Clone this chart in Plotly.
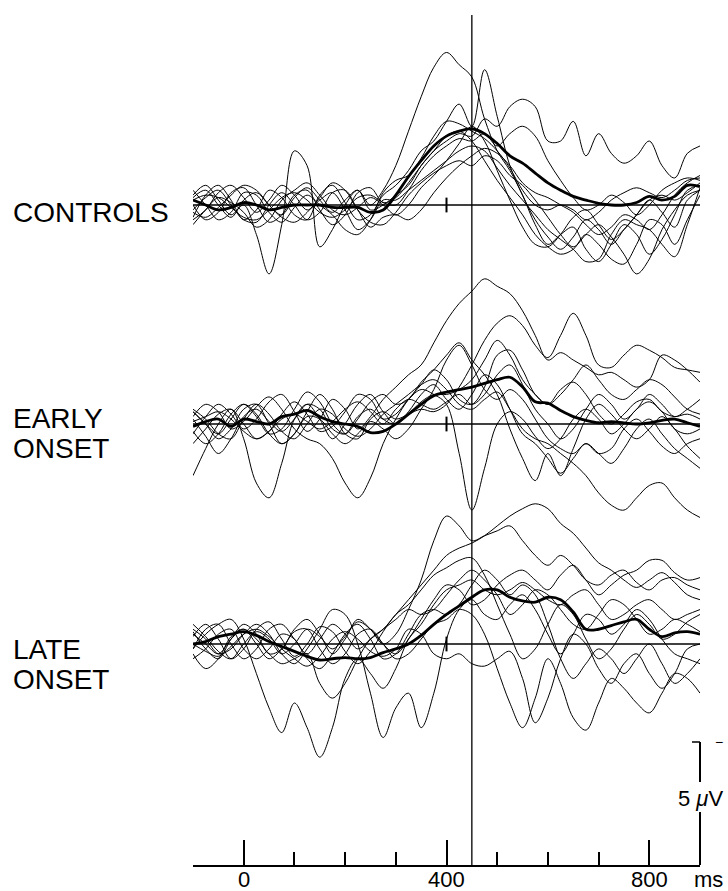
import plotly.graph_objects as go

# ---------------- data ----------------
# time samples (ms)
times = [-100 + 25 * i for i in range(41)]

# amplitudes in microvolts (negativity plotted upward)
controls_mean = [0.2,0.0,-0.2,-0.1,0.1,0.0,-0.2,-0.1,0.0,0.0,0.0,-0.1,-0.1,-0.1,-0.3,-0.2,0.4,1.15,1.8,2.4,2.8,3.0,3.1,2.9,2.5,2.0,1.7,1.3,0.9,0.6,0.35,0.2,0.07,0.0,0.0,0.1,0.35,0.2,0.35,0.8,0.75]
controls_subjects = [
    [0.3,0.6,0.0,-0.5,0.2,0.5,0.0,-0.4,0.3,0.7,0.2,-0.3,0.2,0.6,0.0,0.6,1.6,3.0,4.4,5.6,6.2,5.7,5.2,3.5,2.2,1.4,0.4,-0.8,-1.6,-1.2,-0.9,-1.8,-2.3,-1.6,-0.8,-1.2,-2.0,-1.4,-0.4,0.6,0.8],
    [-0.5,0.4,0.8,0.2,-0.6,-0.2,0.6,0.3,-0.4,-0.6,0.4,0.8,0.1,-0.6,-0.4,0.4,0.8,1.4,2.2,2.6,3.4,4.1,3.2,5.5,3.6,1.6,0.4,-0.6,-1.3,-1.8,-1.3,-0.6,-1.0,-1.6,-1.0,-0.4,0.2,0.4,0.2,0.5,0.9],
    [0.0,-0.6,-0.3,0.5,0.7,0.0,-0.7,-0.4,0.4,0.6,-0.2,-0.8,-0.4,0.5,0.7,0.1,0.3,0.9,1.6,2.2,2.6,2.9,2.8,3.5,3.2,4.0,4.3,4.0,2.6,2.6,3.4,2.0,2.9,2.1,1.7,2.0,2.6,1.6,1.1,2.1,2.4],
    [0.2,0.4,0.3,-0.1,-0.5,-0.6,-0.2,0.3,0.5,0.2,-0.3,-0.5,-0.2,0.3,0.4,0.1,0.0,0.6,1.4,2.0,2.4,2.7,2.6,2.9,2.4,2.9,3.2,2.8,1.8,1.0,0.3,-0.2,0.0,0.4,0.1,-0.4,0.0,0.6,0.9,1.1,1.0],
    [-0.3,-0.5,-0.1,0.4,0.8,0.6,0.0,-0.5,-0.7,-0.3,0.3,0.9,0.6,-0.2,-0.7,-0.8,-0.3,0.4,0.9,1.3,1.6,1.8,1.6,2.0,1.8,1.2,0.8,0.2,-0.5,-1.2,-1.7,-1.2,-0.8,-1.3,-2.0,-2.8,-2.2,-1.0,-0.2,0.4,0.6],
    [0.4,0.8,0.2,-0.4,0.0,-1.2,-2.8,-0.8,2.2,1.6,-1.7,-1.0,0.0,0.6,-0.2,0.0,0.4,0.8,1.6,2.2,2.8,3.0,2.6,1.8,1.0,0.3,-0.4,-1.2,-1.7,-2.0,-1.8,-1.2,-1.6,-2.2,-2.4,-1.6,-0.6,-0.8,-1.6,-0.6,0.4],
    [-0.6,-0.2,0.5,0.8,0.3,-0.3,0.2,0.8,0.4,-0.2,0.2,0.5,-0.2,-1.0,-0.6,0.2,0.2,0.6,1.0,1.4,1.8,2.2,2.4,2.2,1.5,0.8,0.2,-0.4,-1.0,-1.4,-1.8,-2.3,-2.2,-1.2,-0.6,-0.8,-1.0,-1.6,-2.1,-0.8,0.7],
    [-0.8,-0.2,0.3,0.1,-0.3,-0.9,-0.6,0.2,0.6,0.9,0.4,-0.2,-0.4,-0.1,0.3,0.0,-0.4,0.0,0.7,1.2,1.8,2.5,3.2,2.6,1.4,0.2,-0.9,-1.6,-1.7,-1.2,-0.5,-0.2,-0.8,-1.4,-1.0,-0.4,0.2,-0.3,-0.9,0.2,0.6],
    [-0.2,0.3,0.6,0.0,-0.6,-0.7,0.0,0.5,0.0,-0.6,-0.3,0.5,0.6,-0.2,-0.9,-0.5,-0.4,-0.6,-0.2,0.5,1.1,1.6,2.0,2.3,2.1,1.6,0.9,0.5,0.3,0.0,-0.3,-0.8,-1.2,-0.9,-0.4,-0.6,-1.0,-0.4,0.4,0.9,1.2],
    [0.6,0.0,-0.6,-0.3,0.5,0.4,-0.3,-0.7,-0.1,0.4,0.0,-0.4,-1.0,-1.2,-0.6,0.5,1.0,1.2,1.9,2.8,3.4,3.3,3.0,2.7,2.2,1.5,0.6,0.0,-0.2,0.0,-0.2,-0.6,-0.3,0.2,0.5,0.7,0.5,0.3,0.6,1.0,1.1],
]

early_mean = [-0.1,0.1,0.2,-0.1,0.2,0.1,0.0,0.3,0.4,0.55,0.3,0.1,0.0,-0.1,-0.35,-0.3,0.0,0.4,0.8,1.15,1.3,1.4,1.5,1.65,1.8,1.9,1.5,0.9,0.85,0.55,0.3,0.15,0.05,0.1,0.05,0.0,0.05,0.15,0.2,0.05,-0.1]
early_subjects = [
    [-0.4,0.3,0.8,0.4,-0.2,0.2,0.9,1.2,0.5,-0.3,0.2,1.0,0.6,-0.2,0.3,1.0,1.5,2.0,2.4,3.3,4.2,4.9,5.4,5.9,5.6,5.3,4.6,3.6,2.6,2.9,2.6,2.3,2.0,2.1,1.8,1.5,1.8,2.8,2.6,2.2,1.7],
    [0.5,0.0,-0.6,-0.2,0.6,0.8,0.0,-0.8,-0.4,0.5,1.2,0.6,-0.4,-0.6,0.2,0.5,0.2,0.4,0.6,0.5,0.8,1.5,2.4,3.4,4.1,4.4,4.0,3.2,2.7,3.6,4.5,3.6,2.4,2.3,2.8,3.2,3.0,2.7,2.3,2.2,2.1],
    [0.2,-0.5,-1.2,-0.6,0.3,0.6,0.1,-0.3,0.2,0.8,0.6,-0.2,-0.4,0.3,0.6,0.2,0.4,1.0,1.4,1.2,0.8,-1.2,-3.5,-1.8,0.0,0.5,0.2,-0.5,-1.0,-0.6,0.2,0.6,0.2,-0.4,0.0,0.6,0.9,0.5,-0.2,-0.4,-0.2],
    [-2.1,-1.0,0.0,0.6,-0.6,-2.4,-3.0,-1.6,0.2,0.8,0.2,-0.6,0.0,0.8,1.2,0.5,0.0,0.5,1.2,1.6,1.0,0.6,1.2,2.0,1.6,0.6,-0.4,-0.8,-1.4,-2.0,-1.4,-0.8,-1.2,-1.6,-1.0,-0.2,0.2,-0.4,-1.0,-1.4,-1.8],
    [0.3,0.8,0.5,-0.2,0.1,0.7,1.1,0.6,-0.2,-0.6,-0.8,-1.4,-2.4,-3.0,-2.2,-0.8,0.2,1.0,1.6,2.2,1.8,1.0,0.8,1.5,2.8,3.0,2.2,1.2,0.8,1.4,1.7,1.2,0.4,0.0,0.4,0.9,1.0,0.5,0.3,0.4,0.2],
    [0.6,0.2,-0.4,-0.6,0.2,0.8,0.4,-0.3,-0.6,0.0,0.6,0.4,-0.2,-0.5,-0.2,0.4,0.8,1.2,1.6,1.8,1.4,0.8,0.6,1.0,1.3,0.6,-0.2,-0.6,-0.8,-1.2,-1.6,-2.1,-2.8,-3.3,-3.5,-3.0,-2.5,-2.4,-3.0,-3.5,-3.8],
    [-0.3,-0.8,-0.4,0.4,0.8,0.3,-0.4,-0.2,0.6,1.3,0.9,0.0,-0.4,0.2,0.9,1.2,0.8,1.0,1.7,2.2,2.8,3.3,2.6,2.0,1.2,-0.2,-1.4,-2.3,-1.2,-2.1,-1.0,0.2,0.8,0.4,-0.2,-0.6,-0.2,0.3,-0.2,-0.9,-1.4],
    [0.1,0.3,0.5,0.2,-0.3,-0.6,-0.3,0.2,0.4,0.1,-0.2,0.1,0.6,0.9,0.5,0.0,0.6,1.0,0.8,0.6,0.9,1.2,0.8,1.2,2.0,2.4,1.6,0.6,0.0,-0.6,-0.2,0.6,1.2,0.8,0.2,0.6,1.2,0.8,0.3,0.6,1.0],
    [0.5,0.0,-0.4,0.2,0.8,0.4,-0.4,-0.8,-0.4,0.3,0.2,-0.4,-0.8,-0.4,0.1,-0.2,-0.6,-0.2,0.6,1.4,2.6,3.2,2.4,1.4,1.0,1.4,1.0,0.2,-0.6,-1.0,-1.2,-0.8,-1.2,-1.0,-0.2,0.2,-0.3,-0.9,-1.2,-0.8,-0.6],
    [-0.8,-0.2,0.4,0.6,0.0,-0.6,-0.3,0.4,0.9,0.4,-0.3,-0.1,0.5,1.2,1.0,0.2,0.0,0.4,0.9,1.2,1.2,1.4,1.8,2.6,3.4,2.8,1.8,1.2,0.8,1.2,1.8,2.4,1.8,1.2,1.0,1.4,1.8,1.6,1.1,0.6,0.4],
]

late_mean = [0.0,0.1,0.3,0.4,0.5,0.35,0.1,-0.1,-0.3,-0.5,-0.65,-0.6,-0.55,-0.6,-0.55,-0.35,-0.2,0.0,0.35,0.8,1.2,1.55,1.9,2.2,2.2,1.9,1.75,1.7,1.9,1.8,1.3,0.6,0.6,0.75,0.9,1.0,0.6,0.3,0.45,0.5,0.4]
late_subjects = [
    [0.5,-0.2,-0.6,0.2,0.8,0.4,-0.4,-0.2,0.6,1.0,0.4,-0.4,0.2,1.0,0.6,0.0,0.4,1.4,2.6,4.2,5.2,4.8,4.2,4.4,4.6,4.8,4.2,3.6,3.2,3.6,3.2,2.6,2.4,2.8,3.0,2.5,2.2,2.6,2.7,2.4,2.2],
    [-0.2,0.6,0.8,0.0,-0.6,-0.2,0.6,0.8,0.2,-0.4,0.2,0.8,0.4,-0.2,0.2,0.6,1.2,1.8,2.4,3.0,3.6,3.9,4.1,4.4,4.8,5.2,5.5,5.7,5.5,4.9,4.5,3.9,3.3,3.0,2.6,2.3,2.6,2.9,2.5,2.0,1.8],
    [0.3,0.8,0.2,-0.6,-0.2,0.6,0.9,0.2,-0.5,0.0,0.7,0.5,-0.3,-0.8,-0.3,0.5,1.2,1.6,2.2,2.8,3.1,3.4,3.5,2.8,1.6,0.4,-0.6,-0.2,0.8,1.6,1.2,0.2,-0.6,-0.2,0.6,1.2,0.8,0.2,0.4,0.9,1.2],
    [-0.2,0.4,0.8,1.0,0.2,-1.2,-2.6,-3.6,-2.4,-3.4,-4.6,-3.4,-1.4,-0.6,-1.2,-1.8,-1.0,0.2,0.8,1.6,2.2,2.4,2.6,2.2,2.0,2.2,2.5,2.2,1.8,1.6,2.0,2.2,1.6,1.0,1.2,1.6,1.8,1.4,1.0,1.2,1.4],
    [0.6,0.2,-0.4,-0.2,0.4,0.8,0.4,-0.4,-0.8,-0.2,0.6,1.4,1.2,0.0,-2.0,-3.8,-2.6,-2.0,-3.4,-2.0,0.2,1.4,1.8,1.2,1.0,1.6,2.0,1.4,0.4,-0.4,0.4,1.2,1.0,0.4,0.8,1.4,1.0,0.2,-0.4,-0.6,-0.8],
    [-0.4,-1.0,-0.6,0.3,0.6,0.0,-0.6,-0.2,0.5,0.6,-0.2,-0.8,-0.4,0.4,0.6,0.0,-0.6,-0.4,0.2,0.8,1.0,1.4,1.2,0.4,-1.0,-2.4,-3.4,-2.2,-0.6,-1.6,-3.0,-3.5,-2.4,-1.4,-1.8,-2.4,-2.8,-2.0,-1.2,-1.4,-2.0],
    [0.8,0.3,-0.3,-0.6,0.0,0.5,0.2,-0.4,0.0,0.6,0.3,-0.2,0.3,0.9,0.6,0.0,-0.4,0.2,1.0,1.8,2.4,2.2,1.6,1.8,2.4,2.8,3.0,2.6,2.2,2.8,3.2,2.6,2.0,2.4,2.8,3.0,3.4,3.4,2.9,2.6,2.7],
    [0.0,-0.3,-0.5,-0.1,0.4,0.6,0.3,-0.2,-0.6,-0.9,-0.5,0.2,0.5,0.2,-0.3,-0.5,-0.2,0.6,0.4,-0.4,-0.6,-0.4,-0.8,-0.9,-0.6,-0.3,-1.4,-3.2,-2.2,-0.6,0.4,0.0,-1.0,-1.6,-0.8,-0.4,-1.2,-1.8,-1.2,-0.2,0.0],
    [-0.6,-0.2,0.4,0.6,-0.2,-0.6,-0.2,0.4,0.2,-0.6,-1.0,-0.4,0.4,0.8,0.2,-0.6,-0.4,0.4,1.2,1.4,1.2,1.6,2.4,3.0,2.6,2.0,2.4,2.0,0.8,-0.6,-1.4,-0.8,-0.2,-0.6,-1.2,-0.6,0.0,-0.8,-1.6,-1.2,-0.6],
    [0.4,0.0,-0.4,0.2,0.6,0.2,-0.4,-0.8,-0.6,-0.4,-1.6,-2.2,-1.6,-0.6,0.2,0.6,1.0,1.4,1.2,1.4,2.0,2.6,3.0,2.6,2.0,1.2,1.6,2.2,2.0,1.4,0.8,0.6,1.2,1.8,1.6,1.0,0.4,0.6,1.0,0.8,0.5],
]

group_label_lines = [["CONTROLS"], ["EARLY", "ONSET"], ["LATE", "ONSET"]]
tick_values = [0, 400, 800]
tick_labels = ["0", "400", "800"]
minor_ticks = [100, 200, 300, 500, 600, 700]
marker_time = 450          # vertical reference line (ms)
scale_uv = 5               # calibration bar (microvolts)

# ---------------- layout helpers ----------------
W, H = 728, 891
PX_PER_UV = 24.6
AXIS_PX = 865                     # page y of the time axis
X0_PX, X1_PX = 193, 700           # page x of -100 ms and 900 ms
baseline_px = [205, 424, 644]     # page y of the three baselines
offsets = [(AXIS_PX - b) / PX_PER_UV for b in baseline_px]
y_top = AXIS_PX / PX_PER_UV
FONT = "Liberation Sans, Arial, Helvetica, sans-serif"

fig = go.Figure()

groups = [
    (controls_subjects, controls_mean),
    (early_subjects, early_mean),
    (late_subjects, late_mean),
]

for (subjects, mean), off in zip(groups, offsets):
    fig.add_trace(go.Scatter(x=[times[0], times[-1]], y=[off, off], mode="lines",
                             line=dict(color="black", width=1.6), hoverinfo="skip"))
    fig.add_trace(go.Scatter(x=[400, 400], y=[off - 0.3, off + 0.3], mode="lines",
                             line=dict(color="black", width=2), hoverinfo="skip"))
    for s in subjects:
        fig.add_trace(go.Scatter(x=times, y=[off + v for v in s], mode="lines",
                                 line=dict(color="black", width=1.0, shape="spline", smoothing=1.0)))
    fig.add_trace(go.Scatter(x=times, y=[off + v for v in mean], mode="lines",
                             line=dict(color="black", width=2.8, shape="spline", smoothing=1.0)))

# vertical reference line
fig.add_shape(type="line", xref="x", yref="y", x0=marker_time, x1=marker_time,
              y0=0, y1=(AXIS_PX - 15) / PX_PER_UV, line=dict(color="black", width=1.3))

# calibration bar at the right end of the time axis
xbar = X1_PX / W
gap_lo = (AXIS_PX - 812) / PX_PER_UV
gap_hi = (AXIS_PX - 782) / PX_PER_UV
fig.add_shape(type="line", xref="paper", yref="y", x0=xbar, x1=xbar, y0=0, y1=gap_lo,
              line=dict(color="black", width=2))
fig.add_shape(type="line", xref="paper", yref="y", x0=xbar, x1=xbar, y0=gap_hi, y1=scale_uv,
              line=dict(color="black", width=2))
fig.add_shape(type="line", xref="paper", yref="y", x0=xbar - 8 / W, x1=xbar, y0=scale_uv, y1=scale_uv,
              line=dict(color="black", width=1.5))

ann = []
def text(s, x_px, y_px, size, xanchor="left"):
    ann.append(dict(text=s, xref="paper", yref="paper", x=x_px / W, y=1 - y_px / H,
                    xanchor=xanchor, yanchor="middle", showarrow=False,
                    font=dict(family=FONT, size=size, color="black")))

label_y = [[212], [418, 448], [649, 679]]
for lines, ys in zip(group_label_lines, label_y):
    for s, yy in zip(lines, ys):
        text(s, 11, yy, 28)
text("5 <i>μ</i>V", 700, 798, 22, xanchor="center")
text("ms", 692, 879, 22)
text("−", 713, 742, 14)

# time tick labels placed at their data positions
for v, s in zip(tick_values, tick_labels):
    ann.append(dict(text=s, xref="x", yref="paper", x=v, y=1 - 879 / H,
                    xanchor="center", yanchor="middle", showarrow=False,
                    font=dict(family=FONT, size=22, color="black")))

fig.update_layout(
    width=W, height=H, margin=dict(l=0, r=0, t=0, b=0),
    paper_bgcolor="white", plot_bgcolor="white", showlegend=False,
    annotations=ann,
    xaxis=dict(domain=[X0_PX / W, X1_PX / W], range=[times[0], times[-1]],
               showline=True, linecolor="black", linewidth=2, mirror=False,
               ticks="inside", tickvals=tick_values, showticklabels=False,
               ticklen=25, tickwidth=2, tickcolor="black",
               minor=dict(tickvals=minor_ticks, ticks="inside", ticklen=13, tickwidth=2, tickcolor="black"),
               showgrid=False, zeroline=False),
    yaxis=dict(domain=[(H - AXIS_PX) / H, 1], range=[0, y_top], visible=False,
               showgrid=False, zeroline=False),
)

# remove the browser's default page margin so the figure sits at the window origin
fig.write_html("out.html", config={"displayModeBar": False},
               post_script="document.body.style.margin='0';document.body.style.overflow='hidden';")
